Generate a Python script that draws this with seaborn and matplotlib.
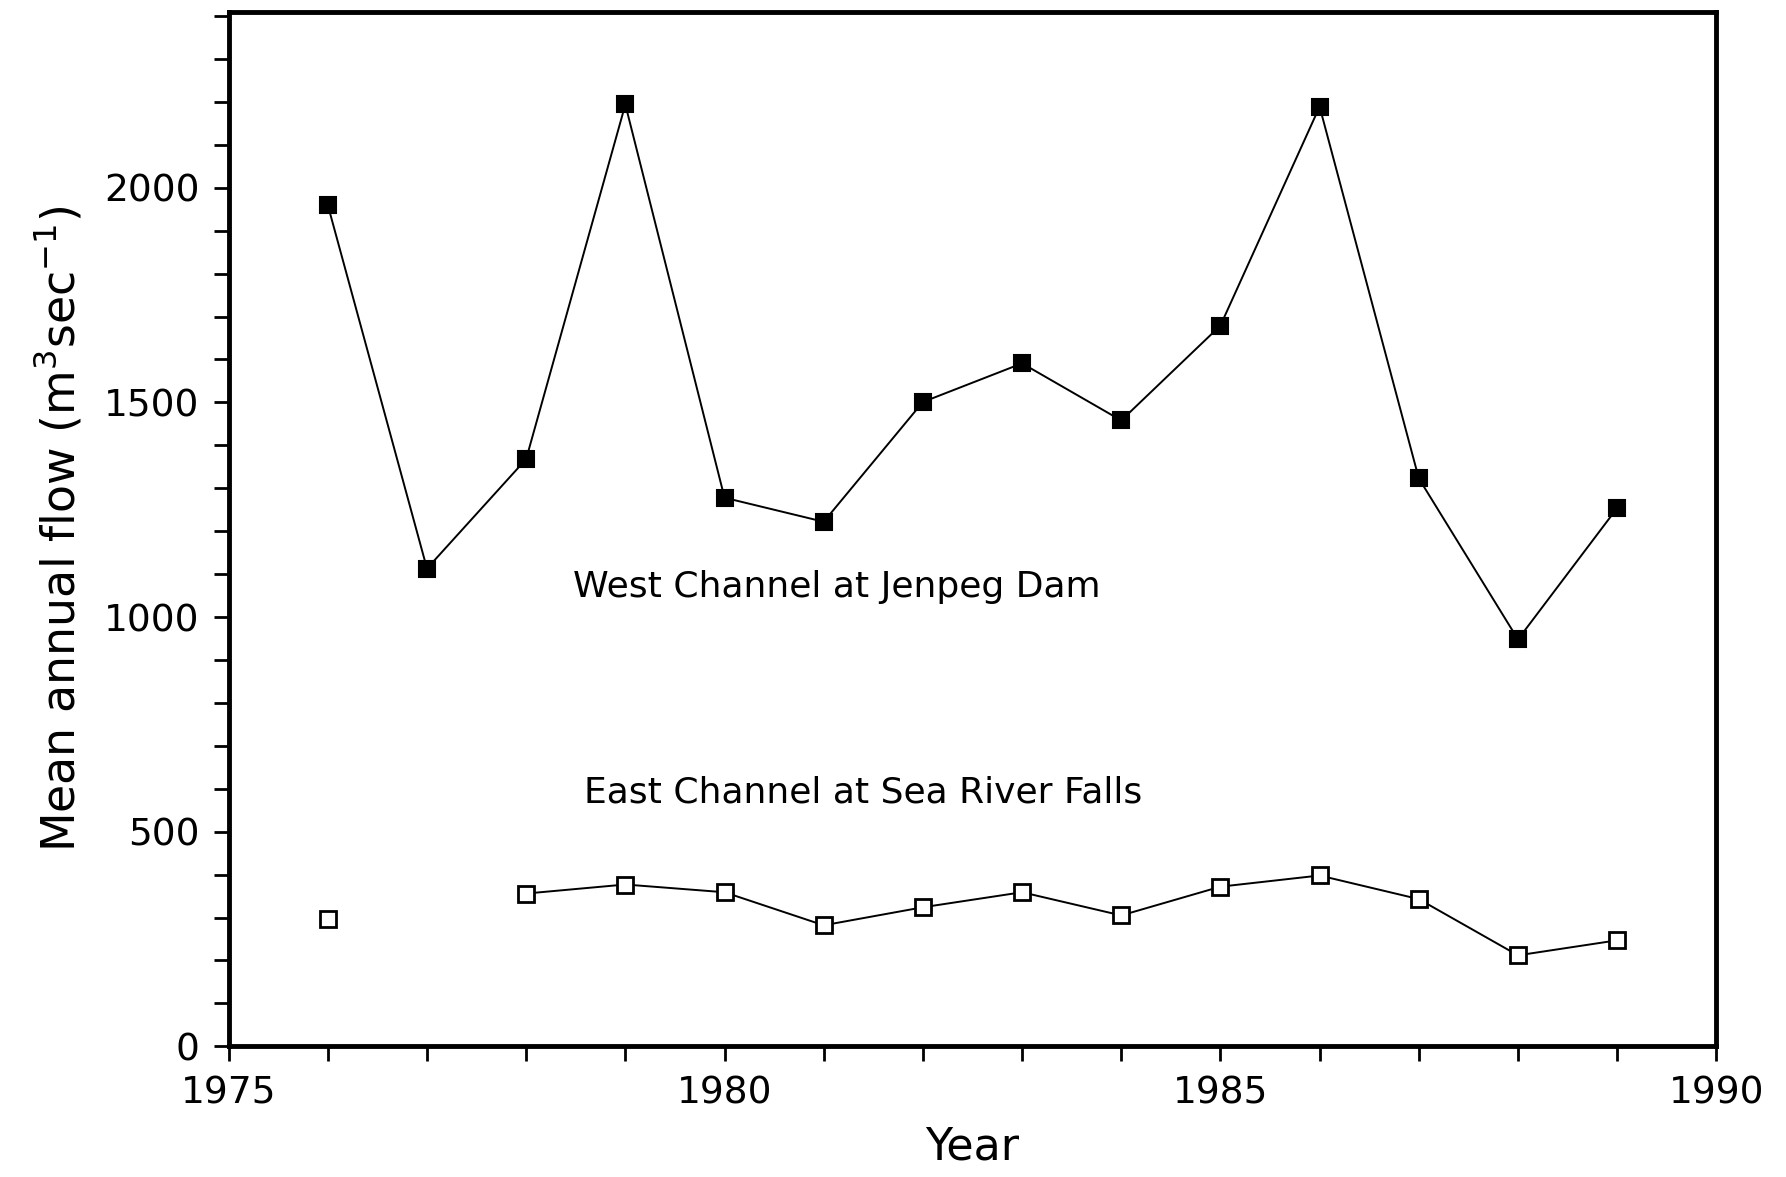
"""
Mean annual flow in the West and East channels, 1976-1989.
"""
import numpy as np
import pandas as pd
import matplotlib
matplotlib.use('Agg')
import matplotlib.pyplot as plt
from matplotlib.ticker import MultipleLocator
import seaborn as sns

# Data
years = [1976, 1977, 1978, 1979, 1980, 1981, 1982,
         1983, 1984, 1985, 1986, 1987, 1988, 1989]
west_flow = [1960, 1113, 1368, 2194, 1278, 1222, 1501,
             1591, 1458, 1679, 2189, 1323, 948, 1254]
east_flow = [297, np.nan, 356, 377, 359, 282, 324,
             359, 305, 372, 398, 343, 212, 247]

west_label = 'West Channel at Jenpeg Dam'
east_label = 'East Channel at Sea River Falls'

# Theme
sns.set_theme(style='white', rc={'axes.edgecolor': 'black',
                                 'text.color': 'black',
                                 'axes.labelcolor': 'black',
                                 'xtick.color': 'black',
                                 'ytick.color': 'black'})
plt.rcParams['font.family'] = ['DejaVu Sans']

fig = plt.figure(figsize=(17.86, 11.77), dpi=100)
ax = fig.add_axes([0.128, 0.111, 0.833, 0.879])

# West channel: filled squares
west = pd.DataFrame({'year': years, 'flow': west_flow})
sns.lineplot(data=west, x='year', y='flow', ax=ax,
             color='black', linewidth=1.4,
             marker='s', markersize=12,
             markerfacecolor='black', markeredgecolor='black',
             markeredgewidth=1.5)

# East channel: open squares, break the line at missing years
east = pd.DataFrame({'year': years, 'flow': east_flow})
east['segment'] = east['flow'].isna().cumsum()
east = east.dropna()
sns.lineplot(data=east, x='year', y='flow', units='segment',
             estimator=None, ax=ax,
             color='black', linewidth=1.4,
             marker='s', markersize=12,
             markerfacecolor='white', markeredgecolor='black',
             markeredgewidth=2)

# Series labels
ax.text(1978.47, 1070, west_label, fontsize=26, ha='left', va='center')
ax.text(1978.58, 592, east_label, fontsize=26, ha='left', va='center')

# Axes limits and ticks
ax.set_xlim(1975, 1990)
ax.set_ylim(0, 2410)
ax.xaxis.set_major_locator(MultipleLocator(5))
ax.xaxis.set_minor_locator(MultipleLocator(1))
ax.yaxis.set_major_locator(MultipleLocator(500))
ax.yaxis.set_minor_locator(MultipleLocator(100))
ax.tick_params(axis='both', which='both', direction='out',
               length=11, width=2, color='black',
               bottom=True, left=True, top=False, right=False)
ax.tick_params(axis='both', which='major', labelsize=27, pad=10)

# Labels
ax.set_xlabel('Year', fontsize=32, labelpad=10)
ax.set_ylabel('Mean annual flow (m$^3$sec$^{-1}$)', fontsize=33, labelpad=14)

# Heavy frame
for spine in ax.spines.values():
    spine.set_visible(True)
    spine.set_linewidth(3.5)
    spine.set_color('black')

ax.grid(False)

fig.savefig('out.png', dpi=100, facecolor='white')
